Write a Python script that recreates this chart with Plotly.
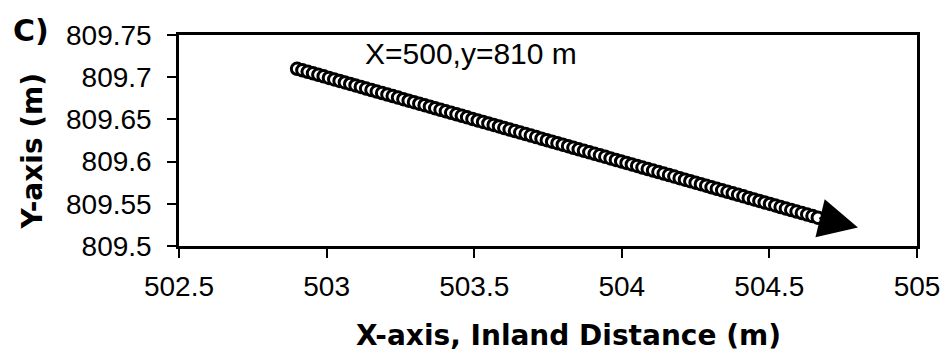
import plotly.graph_objects as go

# Data
x_vals = [502.900, 502.918, 502.936, 502.954, 502.972, 502.990, 503.008, 503.026, 503.044, 503.062,
          503.080, 503.098, 503.116, 503.134, 503.152, 503.170, 503.188, 503.206, 503.224, 503.242,
          503.260, 503.278, 503.296, 503.314, 503.332, 503.350, 503.368, 503.386, 503.404, 503.422,
          503.440, 503.458, 503.476, 503.494, 503.512, 503.530, 503.548, 503.566, 503.584, 503.602,
          503.620, 503.638, 503.656, 503.674, 503.692, 503.710, 503.728, 503.746, 503.764, 503.782,
          503.800, 503.818, 503.836, 503.854, 503.872, 503.890, 503.908, 503.926, 503.944, 503.962,
          503.980, 503.998, 504.016, 504.034, 504.052, 504.070, 504.088, 504.106, 504.124, 504.142,
          504.160, 504.178, 504.196, 504.214, 504.232, 504.250, 504.268, 504.286, 504.304, 504.322,
          504.340, 504.358, 504.376, 504.394, 504.412, 504.430, 504.448, 504.466, 504.484, 504.502,
          504.520, 504.538, 504.556, 504.574, 504.592, 504.610, 504.628, 504.646, 504.664]
y_vals = [809.7100, 809.7082, 809.7064, 809.7046, 809.7028, 809.7010, 809.6992, 809.6974, 809.6956, 809.6938,
          809.6920, 809.6902, 809.6884, 809.6866, 809.6848, 809.6830, 809.6812, 809.6794, 809.6776, 809.6758,
          809.6740, 809.6722, 809.6704, 809.6686, 809.6668, 809.6650, 809.6632, 809.6614, 809.6596, 809.6578,
          809.6560, 809.6542, 809.6524, 809.6506, 809.6488, 809.6470, 809.6452, 809.6434, 809.6416, 809.6398,
          809.6380, 809.6362, 809.6344, 809.6326, 809.6308, 809.6290, 809.6272, 809.6254, 809.6236, 809.6218,
          809.6200, 809.6182, 809.6164, 809.6146, 809.6128, 809.6110, 809.6092, 809.6074, 809.6056, 809.6038,
          809.6020, 809.6002, 809.5984, 809.5966, 809.5948, 809.5930, 809.5912, 809.5894, 809.5876, 809.5858,
          809.5840, 809.5822, 809.5804, 809.5786, 809.5768, 809.5750, 809.5732, 809.5714, 809.5696, 809.5678,
          809.5660, 809.5642, 809.5624, 809.5606, 809.5588, 809.5570, 809.5552, 809.5534, 809.5516, 809.5498,
          809.5480, 809.5462, 809.5444, 809.5426, 809.5408, 809.5390, 809.5372, 809.5354, 809.5336]

x_ticks = [502.5, 503, 503.5, 504, 504.5, 505]
x_tick_labels = ["502.5", "503", "503.5", "504", "504.5", "505"]
y_ticks = [809.5, 809.55, 809.6, 809.65, 809.7, 809.75]
y_tick_labels = ["809.5", "809.55", "809.6", "809.65", "809.7", "809.75"]

arrow_tip = (504.80, 809.522)
label_pos = (503.49, 809.728)

FONT = "Liberation Sans, Arial, sans-serif"
BOLD_FONT = "DejaVu Sans, sans-serif"

# page body has a default 8px margin; compensate so the plot area lands where the reference has it
OFF = 8
W, H = 952, 361
PL, PT, PR, PB = 179, 29, 922, 246.5  # plot-area edges in window pixels
pw, ph = PR - PL, PB - PT


def px_to_paper(px, py):
    return (px - PL) / pw, (PB - py) / ph


fig = go.Figure()
fig.add_trace(go.Scatter(
    x=x_vals, y=y_vals, mode="markers",
    marker=dict(symbol="circle", size=11.5, color="white",
                line=dict(color="black", width=3)),
    showlegend=False, hoverinfo="skip",
))

fig.add_annotation(
    x=arrow_tip[0], y=arrow_tip[1], ax=x_vals[-1], ay=y_vals[-1],
    xref="x", yref="y", axref="x", ayref="y",
    showarrow=True, arrowhead=2, arrowsize=3.9, arrowwidth=2, arrowcolor="black",
    text="",
)
fig.add_annotation(
    x=label_pos[0], y=label_pos[1], xref="x", yref="y",
    text="X=500,y=810 m", showarrow=False,
    font=dict(family=FONT, size=30, color="black"),
)

cx, cy = px_to_paper(29.5, 24)
fig.add_annotation(
    x=cx, y=cy, xref="paper", yref="paper", text="<b>C)</b>", showarrow=False,
    xanchor="center", yanchor="middle",
    font=dict(family=BOLD_FONT, size=30, color="black"),
)
tx, ty = px_to_paper(571, 339)
fig.add_annotation(
    x=tx, y=ty, xref="paper", yref="paper", text="<b>X-axis, Inland Distance (m)</b>",
    showarrow=False, xanchor="center", yanchor="middle",
    font=dict(family=BOLD_FONT, size=28, color="black"),
)
yx, yy = px_to_paper(31, 148)
fig.add_annotation(
    x=yx, y=yy, xref="paper", yref="paper", text="<b>Y-axis (m)</b>",
    showarrow=False, xanchor="center", yanchor="middle", textangle=-90,
    font=dict(family=BOLD_FONT, size=28, color="black"),
)

fig.update_layout(
    width=W - OFF, height=H - OFF,
    margin=dict(l=PL - OFF, r=W - PR, t=PT - OFF, b=H - PB, pad=0),
    paper_bgcolor="white", plot_bgcolor="white",
    font=dict(family=FONT, color="black"),
    xaxis=dict(
        range=[502.5, 505], tickvals=x_ticks, ticktext=x_tick_labels,
        showgrid=False, zeroline=False,
        showline=True, linecolor="black", linewidth=2.5, mirror=True,
        ticks="outside", ticklen=9, tickwidth=1.5, tickcolor="black",
        tickfont=dict(family=FONT, size=28, color="black"),
        ticklabelstandoff=5,
    ),
    xaxis2=dict(
        range=[502.5, 505], tickvals=x_ticks, overlaying="x", side="bottom",
        anchor="y", showgrid=False, zeroline=False, showline=False,
        ticks="inside", ticklen=9, tickwidth=1.5, tickcolor="black",
        showticklabels=False,
    ),
    yaxis=dict(
        range=[809.5, 809.75], tickvals=y_ticks, ticktext=y_tick_labels,
        showgrid=False, zeroline=False,
        showline=True, linecolor="black", linewidth=2.5, mirror=True,
        ticks="outside", ticklen=9, tickwidth=1.5, tickcolor="black",
        tickfont=dict(family=FONT, size=28, color="black"),
        ticklabelstandoff=10,
    ),
)

fig.write_html("out.html", config={"displayModeBar": False})
